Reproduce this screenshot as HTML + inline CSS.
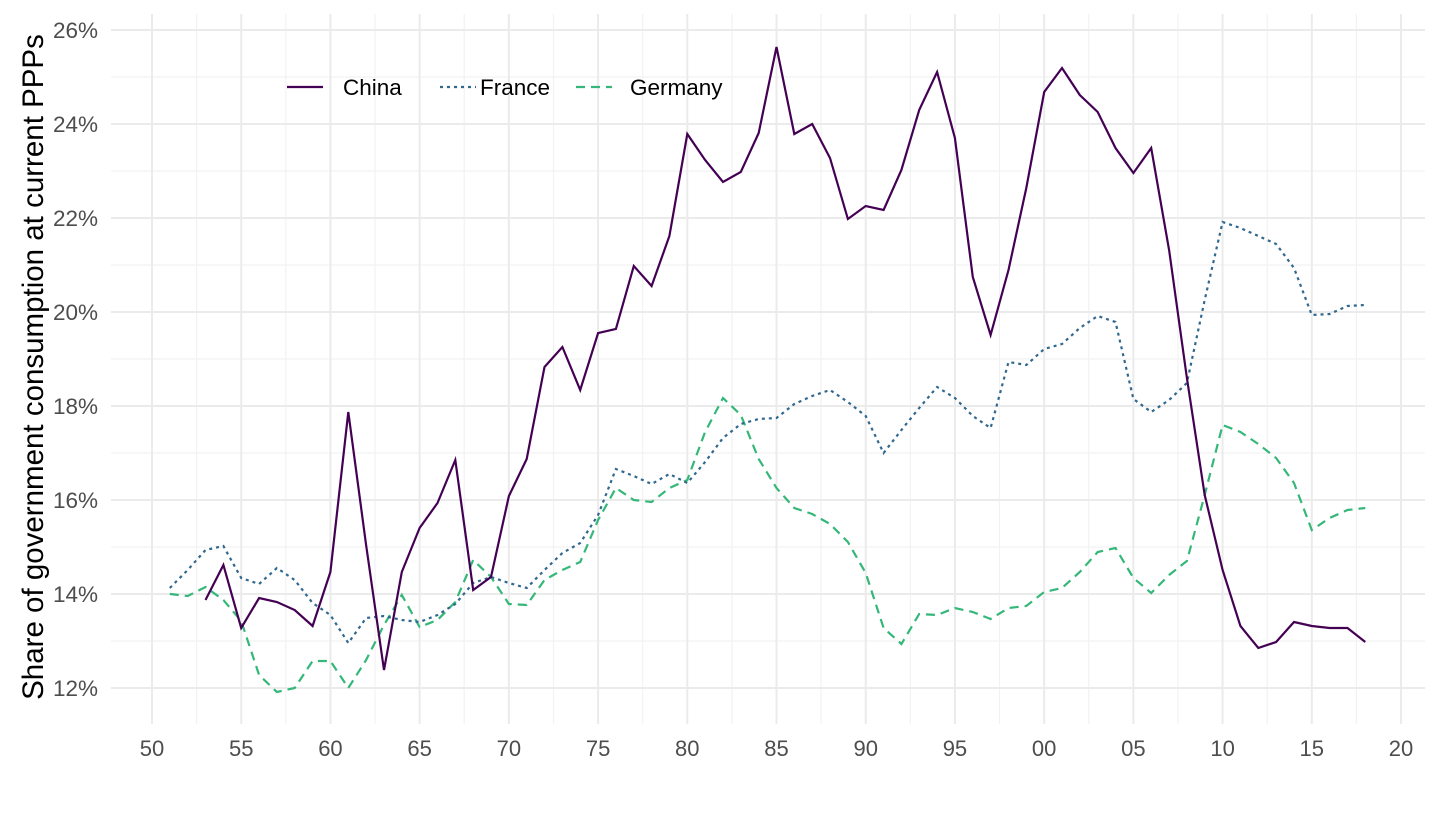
<!DOCTYPE html>
<html><head><meta charset="utf-8"><style>
body{margin:0;background:#fff;}
svg text{font-family:"Liberation Sans",Arial,sans-serif;}
</style></head><body>
<svg id="s" width="1440" height="810" xmlns="http://www.w3.org/2000/svg"></svg>
<script>
const s=document.getElementById('s');
const X=y=>152+(y-1950)*17.843;
const Y=v=>688-(v-12)*47;
let h='';
for(let v=13;v<=25;v+=2)h+=`<line x1="111" x2="1425" y1="${Y(v)}" y2="${Y(v)}" stroke="#f2f2f2" stroke-width="1.2"/>`;
for(let y=1952.5;y<2020;y+=5)h+=`<line x1="${X(y)}" x2="${X(y)}" y1="14" y2="724" stroke="#f2f2f2" stroke-width="1.2"/>`;
for(let v=12;v<=26;v+=2)h+=`<line x1="111" x2="1425" y1="${Y(v)}" y2="${Y(v)}" stroke="#ebebeb" stroke-width="2"/><text x="98" y="${Y(v)+8}" font-size="22.5" fill="#4d4d4d" text-anchor="end">${v}%</text>`;
for(let y=1950;y<=2020;y+=5){h+=`<line x1="${X(y)}" x2="${X(y)}" y1="14" y2="724" stroke="#ebebeb" stroke-width="2"/><text x="${X(y)}" y="756" font-size="22" fill="#4d4d4d" text-anchor="middle">${String(y%100).padStart(2,'0')}</text>`;}
const ch=[[53,600],[54,565],[55,628],[56,598],[57,602],[58,610],[59,626],[60,572],[61,412],[62,545],[63,670],[64,572],[65,528],[66,503],[67,460],[68,590],[69,577],[70,496],[71,459],[72,367],[73,347],[74,390],[75,333],[76,329],[77,266],[78,286],[79,236],[80,134],[81,160],[82,182],[83,172],[84,133],[85,47],[86,134],[87,124],[88,158],[89,219],[90,206],[91,210],[92,170],[93,110],[94,72],[95,138],[96,277],[97,335],[98,270],[99,188],[100,92],[101,68],[102,95],[103,112],[104,148],[105,173],[106,148],[107,250],[108,378],[109,495],[110,570],[111,626],[112,648],[113,642],[114,622],[115,626],[116,628],[117,628],[118,642]];
const fr=[588,570,550,546,578,584,568,580,603,615,643,618,616,620,622,615,604,583,577,583,588,570,553,543,515,469,476,484,474,483,462,438,424,419,418,404,396,390,402,416,453,430,408,387,398,416,428,362,365,349,344,328,316,322,399,412,400,383,300,222,228,236,244,268,315,314,306,305];
const de=[594,596,587,600,621,675,692,688,661,661,688,660,625,595,627,620,602,560,577,604,605,580,570,562,520,488,500,502,488,480,432,398,415,459,488,508,514,524,542,573,628,644,614,615,608,612,619,608,606,592,588,572,552,548,578,593,575,561,495,425,432,444,458,483,530,518,510,508];
const pts=a=>a.map(p=>`${X(1900+p[0]).toFixed(1)},${p[1]}`).join(' ');
h+=`<polyline points="${pts(de.map((v,i)=>[51+i,v]))}" fill="none" stroke="#35b779" stroke-width="2.2" stroke-dasharray="9,6"/>`;
h+=`<polyline points="${pts(fr.map((v,i)=>[51+i,v]))}" fill="none" stroke="#31688e" stroke-width="2.2" stroke-dasharray="3,4"/>`;
h+=`<polyline points="${pts(ch)}" fill="none" stroke="#440154" stroke-width="2.2"/>`;
h+=`<line x1="287" x2="323" y1="87" y2="87" stroke="#440154" stroke-width="2.2"/><text x="343" y="95" font-size="22.5">China</text>`;
h+=`<line x1="440" x2="476" y1="87" y2="87" stroke="#31688e" stroke-width="2.2" stroke-dasharray="3,4"/><text x="480" y="95" font-size="22.5">France</text>`;
h+=`<line x1="576" x2="612" y1="87" y2="87" stroke="#35b779" stroke-width="2.2" stroke-dasharray="9,6"/><text x="630" y="95" font-size="22.5">Germany</text>`;
h+=`<text transform="translate(43,367) rotate(-90)" font-size="29.5" text-anchor="middle">Share of government consumption at current PPPs</text>`;
s.innerHTML=h;
</script>
</body></html>
